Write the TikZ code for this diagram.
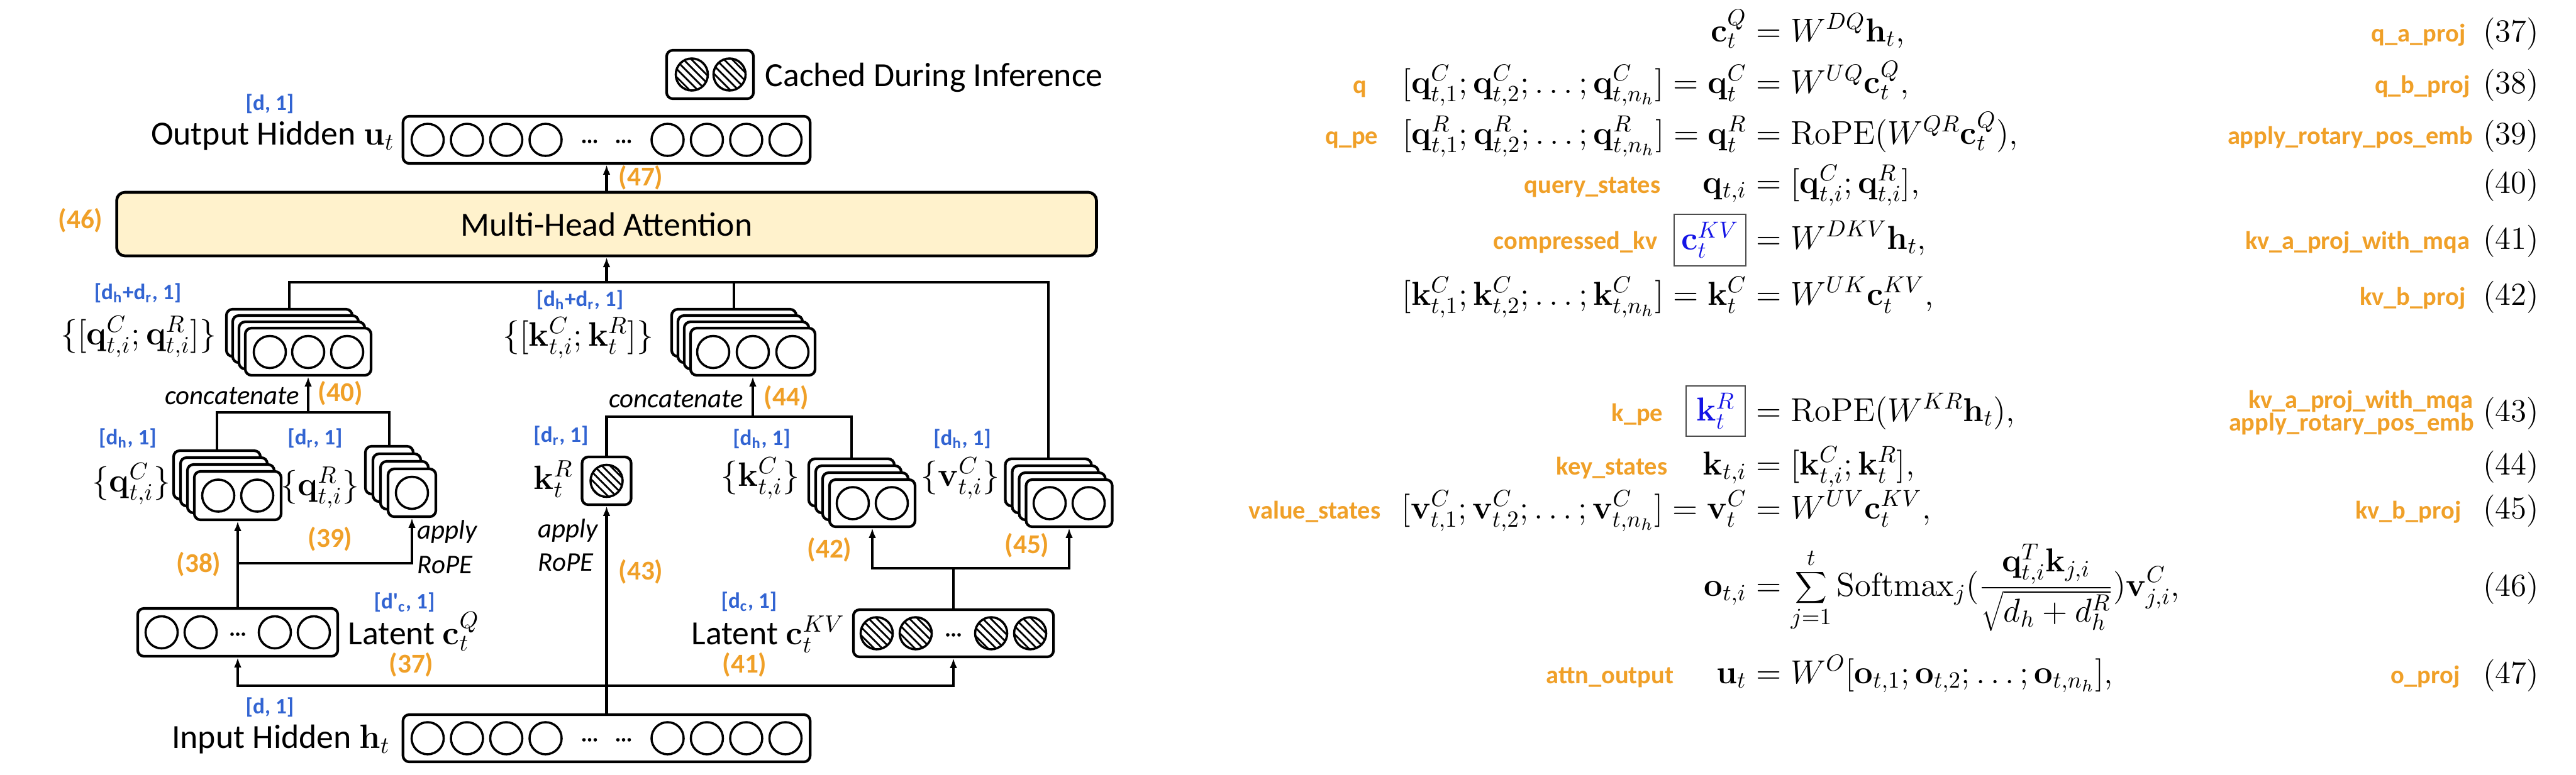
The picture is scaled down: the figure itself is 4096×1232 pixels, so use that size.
\RequirePackage{fix-cm}
\documentclass[tikz,border=0pt]{standalone}
\usepackage[no-math]{fontspec}
\newfontfamily\carl{Carlito}
\usetikzlibrary{arrows.meta,patterns.meta}
\definecolor{orng}{RGB}{240,160,40}
\definecolor{dblue}{RGB}{50,100,210}
\definecolor{mhafill}{RGB}{255,242,204}
\definecolor{eqblue}{RGB}{20,20,230}
\tikzset{
 vbox/.style={draw, rounded corners=2.8pt, line width=1.2pt, minimum height=0.75cm, inner sep=0pt, fill=white},
 cir/.style={draw, circle, line width=1pt, minimum size=0.51cm, inner sep=0pt},
 hcir/.style={cir, pattern={Lines[angle=-45,distance=2.6pt,line width=0.8pt]}},
 conn/.style={line width=1.2pt},
 arr/.style={conn, -{Latex[length=4.5pt,width=3.4pt]}},
 dim/.style={text=dblue, font=\carl\bfseries\fontsize{10}{12}\selectfont, inner sep=0pt},
 enum/.style={text=orng, font=\carl\bfseries\fontsize{12.3}{14}\selectfont, inner sep=0pt},
 lbl/.style={font=\carl\fontsize{15.3}{18}\selectfont, inner sep=0pt},
 itl/.style={font=\carl\itshape\fontsize{12.2}{14}\selectfont, inner sep=0pt},
 code/.style={text=orng, font=\carl\bfseries\fontsize{11.5}{13}\selectfont, inner sep=0pt},
 eqm/.style={font=\fontsize{15}{18}\selectfont, inner sep=0pt},
 eqno/.style={font=\rmfamily\fontsize{14.5}{17}\selectfont, inner sep=0pt},
 eqbox/.style={draw=black!70, line width=0.7pt, text=eqblue, font=\fontsize{15}{18}\selectfont, inner sep=0pt},
}
% name, x, y, width, offset(px), height
\newcommand{\vstk}[6]{%
  \foreach \k in {3,2,1}{\node[vbox, minimum width=#4, minimum height=#6] (#1\k) at ({#2-\k*#5},{#3-\k*#5}) {};}%
  \node[vbox, minimum width=#4, minimum height=#6] (#10) at (#2,#3) {};}
\newcommand{\threedots}[2]{\foreach \e in {-9,0,9} \fill ({#1+\e},#2) circle[radius=0.028cm];}
\begin{document}
\begin{tikzpicture}[x=0.01cm,y=-0.01cm]
\fill[white] (0,0) rectangle (4096,1232);
\useasboundingbox (0,0) rectangle (4096,1232);

% ---------- legend ----------
\node[vbox, minimum width=1.38cm, minimum height=0.77cm] (leg) at (1129,118.5) {};
\node[hcir] (legc1) at (1100,118.5) {};
\node[hcir] (legc2) at (1160,118.5) {};
\node[lbl, anchor=base west] (legt) at (1216,137) {Cached During Inference};

% ---------- output ----------
\node[dim, anchor=base] (dout) at (429,175) {[d, 1]};
\node[lbl, anchor=base east] (outl) at (628,230) {Output Hidden $\mathbf{u}_t$};
\node[vbox, minimum width=6.47cm] (out) at (964.5,222.5) {};
\foreach \i/\d in {1/-284.5,2/-222,3/-159.5,4/-97,5/97,6/159.5,7/222,8/284.5}
  \node[cir] (oc\i) at ({964.5+\d},222.5) {};
\threedots{937.5}{225}
\threedots{991.5}{225}

% ---------- MHA ----------
\node[draw, fill=mhafill, rounded corners=3.7pt, line width=1.3pt, minimum width=15.57cm, minimum height=1.01cm, lbl] (mha) at (964.5,356.5) {Multi-Head Attention};
\node[enum, anchor=base] (n46) at (128,363) {(46)};
\node[enum, anchor=base] (n47) at (1019,295) {(47)};
\draw[arr] (mha.north) -- (out.south);

% ---------- concatenated stacks ----------
\vstk{qcat}{490}{559.5}{2cm}{10}{0.75cm}
\foreach \i/\x in {1/429,2/490,3/552} \node[cir] (qcatc\i) at (\x,560) {};
\vstk{kcat}{1197}{559.5}{1.98cm}{10}{0.75cm}
\foreach \i/\x in {1/1134,2/1197,3/1260} \node[cir] (kcatc\i) at (\x,560) {};

\node[dim, anchor=base] (dqcat) at (219,476) {[d\textsubscript{h}+d\textsubscript{r}, 1]};
\node[lbl, anchor=base east] (lqcat) at (345,548) {$\{[\mathbf{q}^C_{t,i};\mathbf{q}^R_{t,i}]\}$};
\node[dim, anchor=base] (dkcat) at (922,487) {[d\textsubscript{h}+d\textsubscript{r}, 1]};
\node[lbl, anchor=base east] (lkcat) at (1040,550) {$\{[\mathbf{k}^C_{t,i};\mathbf{k}^R_{t}]\}$};

% ---------- per-head stacks ----------
\vstk{qC}{378}{788.5}{1.38cm}{11}{0.77cm}
\node[cir] (qCc1) at (347,788.5) {};
\node[cir] (qCc2) at (409,788.5) {};
\vstk{qR}{655}{784}{0.76cm}{12}{0.76cm}
\node[cir] (qRc1) at (655,784) {};
\vstk{kC}{1387}{800.5}{1.36cm}{11}{0.75cm}
\node[cir] (kCc1) at (1356,800.5) {};
\node[cir] (kCc2) at (1418,800.5) {};
\vstk{v}{1700}{800.5}{1.37cm}{11}{0.75cm}
\node[cir] (vc1) at (1669,800.5) {};
\node[cir] (vc2) at (1731,800.5) {};
\node[vbox, minimum width=0.78cm, minimum height=0.76cm] (kR) at (964.5,765) {};
\node[hcir] (kRc) at (964.5,765) {};

% bus to MHA
\coordinate (bus) at (964.5,449);
\draw[conn] (qcat3.north) -- (qcat3.north |- bus) -- (v3.north |- bus) -- (v3.north);
\draw[conn] (kcat3.north) -- (kcat3.north |- bus);
\draw[arr] (bus) -- (mha.south);

\node[dim, anchor=base] (dqC) at (203,707) {[d\textsubscript{h}, 1]};
\node[lbl, anchor=base east] (lqC) at (272,782) {$\{\mathbf{q}^C_{t,i}\}$};
\node[dim, anchor=base] (dqR) at (501,707) {[d\textsubscript{r}, 1]};
\node[lbl, anchor=base east] (lqR) at (572,788) {$\{\mathbf{q}^R_{t,i}\}$};
\node[dim, anchor=base] (dkR) at (892,703) {[d\textsubscript{r}, 1]};
\node[lbl, anchor=base east] (lkR) at (912,778) {$\mathbf{k}^R_{t}$};
\node[dim, anchor=base] (dkC) at (1211,708) {[d\textsubscript{h}, 1]};
\node[lbl, anchor=base east] (lkC) at (1272,773) {$\{\mathbf{k}^C_{t,i}\}$};
\node[dim, anchor=base] (dv) at (1530,708) {[d\textsubscript{h}, 1]};
\node[lbl, anchor=base east] (lv) at (1590,773) {$\{\mathbf{v}^C_{t,i}\}$};

% concatenation joins
\coordinate (jqc) at (490,656);
\draw[conn] (qC3.north) -- (qC3.north |- jqc) -- (qR3.north |- jqc) -- (qR3.north);
\draw[arr] (jqc) -- (qcat0.south);
\node[itl, anchor=base east] (cat1) at (477,643) {concatenate};
\node[enum, anchor=base west] (n40) at (505,638) {(40)};

\coordinate (jkc) at (1197,663);
\draw[conn] (kR.north) -- (kR.north |- jkc) -- (kC3.north |- jkc) -- (kC3.north);
\draw[arr] (jkc) -- (kcat0.south);
\node[itl, anchor=base east] (cat2) at (1183,648) {concatenate};
\node[enum, anchor=base west] (n44) at (1214,645) {(44)};

% ---------- latent vectors ----------
\node[vbox, minimum width=3.18cm, minimum height=0.76cm] (cQ) at (378,1006) {};
\foreach \i/\x in {1/257,2/319,3/437,4/499} \node[cir] (cQc\i) at (\x,1006) {};
\threedots{378}{1009}
\node[vbox, minimum width=3.18cm, minimum height=0.75cm] (cKV) at (1516,1007.5) {};
\foreach \i/\x in {1/1394,2/1456,3/1576,4/1638} \node[hcir] (cKVc\i) at (\x,1007.5) {};
\threedots{1516}{1010}

\node[dim, anchor=base] (dcQ) at (643,968) {[d'\textsubscript{c}, 1]};
\node[lbl, anchor=base west] (lcQ) at (553,1025) {Latent $\mathbf{c}_t^Q$};
\node[enum, anchor=base] (n37) at (654,1070) {(37)};
\node[dim, anchor=base] (dcKV) at (1191,967) {[d\textsubscript{c}, 1]};
\node[lbl, anchor=base east] (lcKV) at (1344,1025) {Latent $\mathbf{c}_t^{KV}$};
\node[enum, anchor=base] (n41) at (1184,1070) {(41)};

% q branch
\draw[arr] (cQ.north) -- (qC0.south);
\coordinate (jq) at (378,896);
\draw[arr] (jq) -| (qR0.south);
\node[enum, anchor=base] (n38) at (316,910) {(38)};
\node[enum, anchor=base] (n39) at (525,870) {(39)};
\node[itl, anchor=base west] (ap1) at (663,857) {apply};
\node[itl, anchor=base west] (rp1) at (663,912) {RoPE};

% kv branch
\coordinate (jkv) at (1516,904);
\draw[conn] (cKV.north) -- (jkv);
\draw[arr] (jkv) -| (kC0.south);
\draw[arr] (jkv) -| (v0.south);
\node[enum, anchor=base] (n42) at (1319,887) {(42)};
\node[enum, anchor=base] (n45) at (1633,880) {(45)};

% ---------- input ----------
\node[dim, anchor=base] (din) at (429,1135) {[d, 1]};
\node[lbl, anchor=base east] (inl) at (621,1190) {Input Hidden $\mathbf{h}_t$};
\node[vbox, minimum width=6.47cm] (inp) at (964.5,1174.5) {};
\foreach \i/\d in {1/-284.5,2/-222,3/-159.5,4/-97,5/97,6/159.5,7/222,8/284.5}
  \node[cir] (ic\i) at ({964.5+\d},1174.5) {};
\threedots{937.5}{1177}
\threedots{991.5}{1177}

\draw[arr] (inp.north) -- (kR.south);
\coordinate (hb) at (964.5,1091);
\draw[arr] (hb) -| (cQ.south);
\draw[arr] (hb) -| (cKV.south);
\node[itl, anchor=base west] (ap2) at (855,855) {apply};
\node[itl, anchor=base west] (rp2) at (855,908) {RoPE};
\node[enum, anchor=base] (n43) at (1019,922) {(43)};

% ---------- equations ----------
\node[eqm, anchor=base east] (e1l) at (2778,66) {$\mathbf{c}_t^Q$};
\node[eqm, anchor=base west] (e1r) at (2792,66) {$= W^{DQ}\mathbf{h}_t,$};
\node[eqm, anchor=base east] (e2l) at (2778,148) {$[\mathbf{q}^C_{t,1};\mathbf{q}^C_{t,2};\ldots;\mathbf{q}^C_{t,n_h}] = \mathbf{q}^C_t$};
\node[eqm, anchor=base west] (e2r) at (2792,148) {$= W^{UQ}\mathbf{c}^Q_t,$};
\node[eqm, anchor=base east] (e3l) at (2778,229) {$[\mathbf{q}^R_{t,1};\mathbf{q}^R_{t,2};\ldots;\mathbf{q}^R_{t,n_h}] = \mathbf{q}^R_t$};
\node[eqm, anchor=base west] (e3r) at (2792,229) {$= \mathrm{RoPE}(W^{QR}\mathbf{c}^Q_t),$};
\node[eqm, anchor=base east] (e4l) at (2778,307) {$\mathbf{q}_{t,i}$};
\node[eqm, anchor=base west] (e4r) at (2792,307) {$= [\mathbf{q}^C_{t,i};\mathbf{q}^R_{t,i}],$};
\node[eqbox, minimum width=1.14cm, minimum height=0.82cm] (e5l) at (2719,382) {$\mathbf{c}^{KV}_t$};
\node[eqm, anchor=base west] (e5r) at (2792,396) {$= W^{DKV}\mathbf{h}_t,$};
\node[eqm, anchor=base east] (e6l) at (2778,485) {$[\mathbf{k}^C_{t,1};\mathbf{k}^C_{t,2};\ldots;\mathbf{k}^C_{t,n_h}] = \mathbf{k}^C_t$};
\node[eqm, anchor=base west] (e6r) at (2792,485) {$= W^{UK}\mathbf{c}^{KV}_t,$};
\node[eqbox, minimum width=0.94cm, minimum height=0.80cm] (e7l) at (2728,654) {$\mathbf{k}^R_t$};
\node[eqm, anchor=base west] (e7r) at (2792,670) {$= \mathrm{RoPE}(W^{KR}\mathbf{h}_t),$};
\node[eqm, anchor=base east] (e8l) at (2778,755) {$\mathbf{k}_{t,i}$};
\node[eqm, anchor=base west] (e8r) at (2792,755) {$= [\mathbf{k}^C_{t,i};\mathbf{k}^R_t],$};
\node[eqm, anchor=base east] (e9l) at (2778,825) {$[\mathbf{v}^C_{t,1};\mathbf{v}^C_{t,2};\ldots;\mathbf{v}^C_{t,n_h}] = \mathbf{v}^C_t$};
\node[eqm, anchor=base west] (e9r) at (2792,825) {$= W^{UV}\mathbf{c}^{KV}_t,$};
\node[eqm, anchor=base east] (e10l) at (2778,948) {$\mathbf{o}_{t,i}$};
\node[eqm, anchor=base west] (e10r) at (2792,948) {$\displaystyle = \sum_{j=1}^{t}\mathrm{Softmax}_j(\frac{\mathbf{q}^T_{t,i}\mathbf{k}_{j,i}}{\sqrt{d_h+d^R_h}})\mathbf{v}^C_{j,i},$};
\node[eqm, anchor=base east] (e11l) at (2778,1087) {$\mathbf{u}_t$};
\node[eqm, anchor=base west] (e11r) at (2792,1087) {$= W^O[\mathbf{o}_{t,1};\mathbf{o}_{t,2};\ldots;\mathbf{o}_{t,n_h}],$};

% left code labels
\node[code, anchor=base east] (cq) at (2174,148) {q};
\node[code, anchor=base east] (cqpe) at (2192,229) {q\_pe};
\node[code, anchor=base east] (cqs) at (2641,307) {query\_states};
\node[code, anchor=base east] (cckv) at (2636,396) {compressed\_kv};
\node[code, anchor=base east] (ckpe) at (2645,670) {k\_pe};
\node[code, anchor=base east] (cks) at (2652,755) {key\_states};
\node[code, anchor=base east] (cvs) at (2196,825) {value\_states};
\node[code, anchor=base east] (cao) at (2662,1087) {attn\_output};

% right code labels
\node[code, anchor=base east] (r37) at (3921,66) {q\_a\_proj};
\node[code, anchor=base east] (r38) at (3928,148) {q\_b\_proj};
\node[code, anchor=base east] (r39) at (3933,229) {apply\_rotary\_pos\_emb};
\node[code, anchor=base east] (r41) at (3928,396) {kv\_a\_proj\_with\_mqa};
\node[code, anchor=base east] (r42) at (3921,485) {kv\_b\_proj};
\node[code, anchor=base east] (r43a) at (3933,649) {kv\_a\_proj\_with\_mqa};
\node[code, anchor=base east] (r43b) at (3935,685) {apply\_rotary\_pos\_emb};
\node[code, anchor=base east] (r45) at (3914,825) {kv\_b\_proj};
\node[code, anchor=base east] (r47) at (3912,1087) {o\_proj};

% equation numbers
\foreach \n/\y in {37/66,38/148,39/229,40/307,41/396,42/485,43/670,44/755,45/825,46/948,47/1087}
  \node[eqno, anchor=base east] (en\n) at (4038,\y) {(\n)};
\end{tikzpicture}
\end{document}
